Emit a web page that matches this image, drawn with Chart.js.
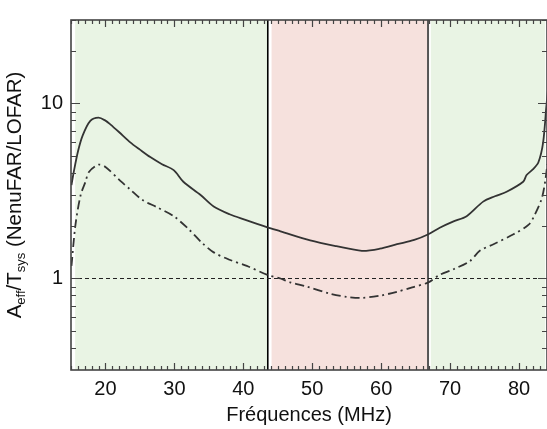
<!DOCTYPE html>
<html>
<head>
<meta charset="utf-8">
<script src="https://cdn.jsdelivr.net/npm/chart.js@4.4.1/dist/chart.umd.min.js"></script>
<style>
  html, body { margin: 0; padding: 0; background: #fff; overflow: hidden; }
  #wrap { position: relative; width: 547px; height: 429px; }
</style>
</head>
<body>
<div id="wrap"><canvas id="effChart"></canvas></div>
<script>
// solid curve (Aeff/Tsys ratio, upper)
const freqSolid = [15.07, 15.4, 16.0, 16.7, 17.8, 19.0, 20.0, 20.7, 22.0, 23.6, 25.0, 26.5, 28.2, 29.9, 31.3, 33.8, 35.7, 38.0, 40.2, 43.5, 45.4, 49.7, 53.5, 57.2, 59.8, 62.3, 64.8, 66.85, 68.5, 70.5, 72.4, 74.8, 76.5, 78.2, 80.6, 81.1, 82.0, 82.8, 83.5, 84.0, 84.3];
const ratioSolid = [3.42, 4.06, 5.3, 6.57, 7.95, 8.3, 7.98, 7.6, 6.85, 6.0, 5.45, 4.94, 4.5, 4.16, 3.57, 3.0, 2.58, 2.33, 2.17, 1.96, 1.86, 1.65, 1.53, 1.44, 1.48, 1.57, 1.66, 1.79, 1.95, 2.12, 2.27, 2.75, 2.95, 3.13, 3.57, 3.9, 4.2, 4.6, 6.0, 10.0, 13.0];

// dash-dot curve (lower)
const freqDash = [15.07, 15.65, 16.4, 17.1, 17.6, 19.0, 20.0, 22.2, 23.5, 25.3, 27.5, 29.9, 32.1, 34.0, 35.7, 38.0, 40.5, 43.5, 45.4, 46.8, 49.2, 52.5, 55.0, 57.2, 60.0, 62.3, 64.5, 66.85, 68.5, 70.5, 72.9, 74.3, 76.3, 79.2, 81.4, 82.3, 83.3, 83.8, 84.1, 84.4];
const ratioDash = [1.18, 2.03, 3.0, 3.57, 4.06, 4.47, 4.34, 3.6, 3.25, 2.82, 2.55, 2.27, 1.91, 1.6, 1.41, 1.28, 1.18, 1.05, 1.0, 0.95, 0.9, 0.82, 0.785, 0.775, 0.8, 0.84, 0.89, 0.95, 1.05, 1.13, 1.26, 1.44, 1.57, 1.79, 2.03, 2.32, 2.87, 3.6, 4.5, 6.0];

// reference level and band limits (MHz)
const refLevel = 1;
const bandEdges = [43.55, 66.8];
const greenBands = [[15.6, 43.5], [67.2, 83.8]];
const pinkBands = [[44.1, 66.75]];

// axes
const xMin = 15, xMax = 84.06;
const yMin = 0.3, yMax = 30;
const xTickValues = [20, 30, 40, 50, 60, 70, 80];
const yTickValues = [1, 10];
const yMinorTicks = [0.4, 0.5, 0.6, 0.7, 0.8, 0.9, 2, 3, 4, 5, 6, 7, 8, 9, 20, 30];

const FONT = '"Liberation Sans", Arial, Helvetica, sans-serif';
const TEXT = '#111';

function toPoints(xs, ys) {
    return xs.map((x, i) => ({ x: x, y: ys[i] }));
}

const bgPlugin = {
    id: 'bands',
    beforeDatasetsDraw(chart) {
        const { ctx, chartArea, scales } = chart;
        const xs = scales.x;
        ctx.save();
        ctx.fillStyle = 'rgb(233, 244, 228)';
        greenBands.forEach(b => {
            const a = xs.getPixelForValue(b[0]), c = xs.getPixelForValue(b[1]);
            ctx.fillRect(a, chartArea.top, c - a, chartArea.bottom - chartArea.top);
        });
        ctx.fillStyle = 'rgb(246, 225, 221)';
        pinkBands.forEach(b => {
            const a = xs.getPixelForValue(b[0]), c = xs.getPixelForValue(b[1]);
            ctx.fillRect(a, chartArea.top, c - a, chartArea.bottom - chartArea.top);
        });
        ctx.restore();
    }
};

const framePlugin = {
    id: 'frame',
    afterDraw(chart) {
        const { ctx, chartArea, scales } = chart;
        const { left, right, top, bottom } = chartArea;
        const xs = scales.x, ys = scales.y;
        ctx.save();
        ctx.strokeStyle = '#444';
        ctx.lineWidth = 1.6;
        ctx.strokeRect(left, top, right - left, bottom - top);

        ctx.lineWidth = 1.2;
        ctx.beginPath();
        // x ticks, every MHz, top and bottom, pointing in
        for (let f = Math.ceil(xMin); f <= xMax; f++) {
            const px = Math.round(xs.getPixelForValue(f)) + 0.5;
            const len = f % 10 === 0 ? 7 : 4;
            ctx.moveTo(px, bottom); ctx.lineTo(px, bottom - len);
            ctx.moveTo(px, top); ctx.lineTo(px, top + len);
        }
        // y ticks, left and right
        yTickValues.concat(yMinorTicks).forEach(v => {
            const py = Math.round(ys.getPixelForValue(v)) + 0.5;
            const len = yTickValues.includes(v) ? 9 : 5;
            ctx.moveTo(left, py); ctx.lineTo(left + len, py);
            ctx.moveTo(right, py); ctx.lineTo(right - len, py);
        });
        ctx.stroke();

        // y axis title with subscripts
        const parts = [
            { t: 'A', s: 20.5, dy: 0 },
            { t: 'eff', s: 13, dy: 4 },
            { t: '/T', s: 20.5, dy: 0 },
            { t: 'sys', s: 13, dy: 4 },
            { t: ' (NenuFAR/LOFAR)', s: 20.5, dy: 0 }
        ];
        let total = 0;
        parts.forEach(p => {
            ctx.font = p.s + 'px ' + FONT;
            p.w = ctx.measureText(p.t).width;
            total += p.w;
        });
        ctx.translate(21, (top + bottom) / 2);
        ctx.rotate(-Math.PI / 2);
        ctx.fillStyle = TEXT;
        ctx.textBaseline = 'alphabetic';
        let x = -total / 2;
        parts.forEach(p => {
            ctx.font = p.s + 'px ' + FONT;
            ctx.fillText(p.t, x, p.dy);
            x += p.w;
        });
        ctx.restore();
    }
};

const lineStyle = {
    pointRadius: 0,
    tension: 0.3,
    fill: false
};

new Chart(document.getElementById('effChart'), {
    type: 'line',
    data: {
        datasets: [
            {
                label: 'ratio',
                data: toPoints(freqSolid, ratioSolid),
                borderColor: '#333',
                borderWidth: 1.8,
                ...lineStyle
            },
            {
                label: 'ratio (dash-dot)',
                data: toPoints(freqDash, ratioDash),
                borderColor: '#333',
                borderWidth: 1.8,
                borderDash: [9, 4, 2, 4],
                ...lineStyle
            },
            {
                label: 'level 1',
                data: toPoints([xMin, xMax], [refLevel, refLevel]),
                borderColor: '#222',
                borderWidth: 1.2,
                borderDash: [4, 3],
                pointRadius: 0,
                tension: 0
            },
            {
                label: 'edge 1',
                data: toPoints([bandEdges[0], bandEdges[0]], [yMin, yMax]),
                borderColor: '#000',
                borderWidth: 1.6,
                pointRadius: 0,
                tension: 0
            },
            {
                label: 'edge 2',
                data: toPoints([bandEdges[1], bandEdges[1]], [yMin, yMax]),
                borderColor: '#555',
                borderWidth: 2,
                pointRadius: 0,
                tension: 0
            }
        ]
    },
    options: {
        responsive: true,
        maintainAspectRatio: false,
        animation: false,
        layout: { padding: { top: 15, right: 0, left: 0, bottom: 0 } },
        plugins: {
            legend: { display: false },
            tooltip: { enabled: false }
        },
        scales: {
            x: {
                type: 'linear',
                min: xMin,
                max: xMax,
                afterBuildTicks: s => { s.ticks = xTickValues.map(v => ({ value: v })); },
                afterFit: s => { s.height = 59; },
                grid: { display: false, drawTicks: false, tickLength: 0 },
                border: { display: false },
                ticks: {
                    color: TEXT,
                    padding: 7,
                    autoSkip: false,
                    maxRotation: 0,
                    font: { family: FONT, size: 20 }
                },
                title: {
                    display: true,
                    text: 'Fréquences (MHz)',
                    color: TEXT,
                    padding: { top: 0, bottom: 2 },
                    font: { family: FONT, size: 20 }
                }
            },
            y: {
                type: 'logarithmic',
                min: yMin,
                max: yMax,
                afterBuildTicks: s => { s.ticks = yTickValues.map(v => ({ value: v })); },
                afterFit: s => { s.width = 71; },
                grid: { display: false, drawTicks: false, tickLength: 0 },
                border: { display: false },
                ticks: {
                    color: TEXT,
                    padding: 8,
                    autoSkip: false,
                    font: { family: FONT, size: 20 },
                    callback: v => String(v)
                }
            }
        }
    },
    plugins: [bgPlugin, framePlugin]
});
</script>
</body>
</html>
